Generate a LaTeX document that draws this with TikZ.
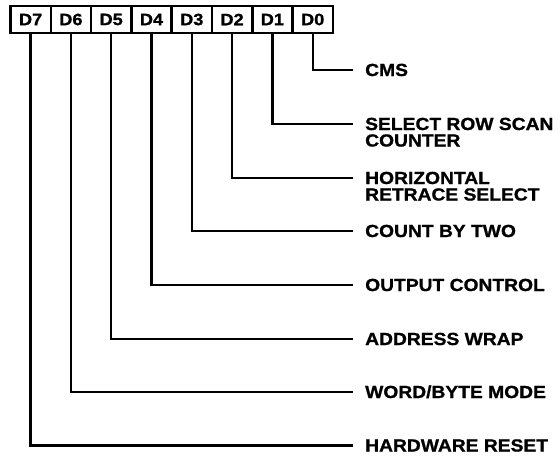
\documentclass[tikz,border=0pt]{standalone}
\usepackage{fontspec}
\newfontfamily\lblfont{Liberation Sans}[FakeStretch=1.1,FakeBold=1]
\begin{document}
\begin{tikzpicture}[x=1pt,y=-1pt,
  bitbox/.style={draw,line width=2.5pt,minimum width=40.3pt,minimum height=27pt,
    inner sep=0pt,font=\lblfont\bfseries\fontsize{16.5}{16}\selectfont},
  lbl/.style={inner sep=0pt,anchor=base west,font=\lblfont\bfseries\fontsize{17.5}{16.5}\selectfont},
  wire/.style={line width=2.4pt}]
\useasboundingbox (0,0) rectangle (560,456);
% register bits
\foreach \n [count=\i from 0] in {7,6,5,4,3,2,1,0}
  \node[bitbox] (d\n) at (30.6+40.3*\i,19.5) {D\n};
% labels (baseline 6pt below the connector)
\node[lbl] (l0) at (365,76)  {CMS};
\node[lbl] (l1) at (365,130) {\vtop{\baselineskip=16.5pt\hbox{SELECT ROW SCAN}\hbox{COUNTER}}};
\node[lbl] (l2) at (365,184) {\vtop{\baselineskip=16.5pt\hbox{HORIZONTAL}\hbox{RETRACE SELECT}}};
\node[lbl] (l3) at (365,237) {COUNT BY TWO};
\node[lbl] (l4) at (365,291) {OUTPUT CONTROL};
\node[lbl] (l5) at (365,345) {ADDRESS WRAP};
\node[lbl] (l6) at (365,398) {WORD/BYTE MODE};
\node[lbl] (l7) at (365,451.5) {HARDWARE RESET};
% connectors
\foreach \n in {0,...,7}
  \draw[wire] (d\n.south) |- ([shift={(-12,-6)}]l\n.base west);
\end{tikzpicture}
\end{document}
